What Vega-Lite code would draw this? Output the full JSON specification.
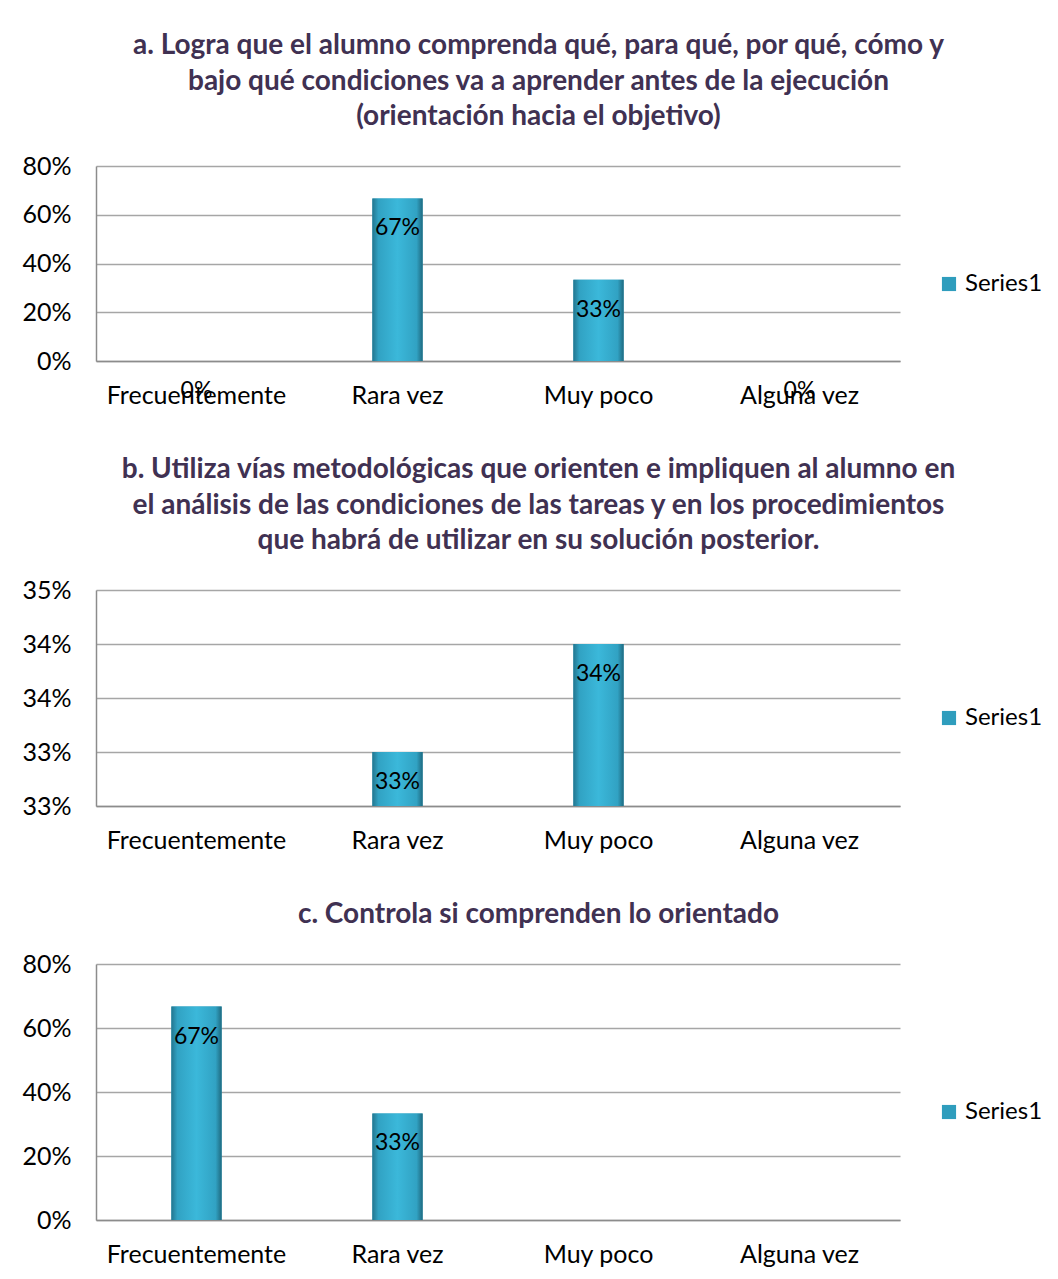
{
  "$schema": "https://vega.github.io/schema/vega-lite/v6.json",
  "background": "white",
  "padding": {"left": 21, "top": 32, "right": 5, "bottom": 5},
  "spacing": 48,
  "datasets": {
    "a": [
      {"categoria": "Frecuentemente", "valor": 0, "etiqueta": "0%"},
      {"categoria": "Rara vez", "valor": 0.667, "etiqueta": "67%"},
      {"categoria": "Muy poco", "valor": 0.333, "etiqueta": "33%"},
      {"categoria": "Alguna vez", "valor": 0, "etiqueta": "0%"}
    ],
    "b": [
      {"categoria": "Rara vez", "valor": 0.335, "etiqueta": "33%"},
      {"categoria": "Muy poco", "valor": 0.345, "etiqueta": "34%"}
    ],
    "c": [
      {"categoria": "Frecuentemente", "valor": 0.667, "etiqueta": "67%"},
      {"categoria": "Rara vez", "valor": 0.333, "etiqueta": "33%"}
    ]
  },
  "vconcat": [
    {
      "width": 804,
      "height": 195,
      "title": {"text": ["a. Logra que el alumno comprenda qué, para qué, por qué, cómo y", "bajo qué condiciones va a aprender antes de la ejecución", "(orientación hacia el objetivo)"]},
      "data": {"name": "a"},
      "encoding": {
        "x": {"field": "categoria", "type": "nominal", "sort": ["Frecuentemente", "Rara vez", "Muy poco", "Alguna vez"],
              "scale": {"domain": ["Frecuentemente", "Rara vez", "Muy poco", "Alguna vez"], "paddingInner": 0.75, "paddingOuter": 0.375},
              "axis": {"title": null}},
        "y": {"field": "valor", "type": "quantitative", "scale": {"domain": [0, 0.8]},
              "axis": {"title": null, "values": [0, 0.2, 0.4, 0.6, 0.8], "format": ".0%"}}
      },
      "layer": [
        {"mark": {"type": "bar"},
         "encoding": {"color": {"datum": "Series1", "legend": {"title": " "}, "scale": {"range": ["#2f9dbd"]}}}},
        {"mark": {"type": "bar", "fill": {"gradient": "linear", "x1": 0, "y1": 0, "x2": 1, "y2": 0, "stops": [{"offset": 0, "color": "#23768f"}, {"offset": 0.12, "color": "#31a2c3"}, {"offset": 0.5, "color": "#3bb8da"}, {"offset": 0.88, "color": "#31a2c3"}, {"offset": 1, "color": "#1f6a80"}]}}},
        {"mark": {"type": "text", "baseline": "middle", "dy": 30, "fontSize": 23, "color": "#000000"},
         "encoding": {"text": {"field": "etiqueta"}}}
      ]
    },
    {
      "width": 804,
      "height": 216,
      "title": {"text": ["b. Utiliza vías metodológicas que orienten e impliquen al alumno en", "el análisis de las condiciones de las tareas y en los procedimientos", "que habrá de utilizar en su solución posterior."]},
      "data": {"name": "b"},
      "encoding": {
        "x": {"field": "categoria", "type": "nominal", "sort": ["Frecuentemente", "Rara vez", "Muy poco", "Alguna vez"],
              "scale": {"domain": ["Frecuentemente", "Rara vez", "Muy poco", "Alguna vez"], "paddingInner": 0.75, "paddingOuter": 0.375},
              "axis": {"title": null}},
        "y": {"field": "valor", "type": "quantitative", "scale": {"domain": [0.33, 0.35], "zero": false},
              "axis": {"title": null, "values": [0.33, 0.335, 0.34, 0.345, 0.35], "labelExpr": "floor(datum.value * 100 + 0.0001) + '%'"}}
      },
      "layer": [
        {"mark": {"type": "bar"},
         "encoding": {"y2": {"datum": 0.33}, "color": {"datum": "Series1", "legend": {"title": " "}, "scale": {"range": ["#2f9dbd"]}}}},
        {"mark": {"type": "bar", "fill": {"gradient": "linear", "x1": 0, "y1": 0, "x2": 1, "y2": 0, "stops": [{"offset": 0, "color": "#23768f"}, {"offset": 0.12, "color": "#31a2c3"}, {"offset": 0.5, "color": "#3bb8da"}, {"offset": 0.88, "color": "#31a2c3"}, {"offset": 1, "color": "#1f6a80"}]}},
         "encoding": {"y2": {"datum": 0.33}}},
        {"mark": {"type": "text", "baseline": "middle", "dy": 30, "fontSize": 23, "color": "#000000"},
         "encoding": {"text": {"field": "etiqueta"}}}
      ]
    },
    {
      "width": 804,
      "height": 256,
      "title": {"text": "c. Controla si comprenden lo orientado"},
      "data": {"name": "c"},
      "encoding": {
        "x": {"field": "categoria", "type": "nominal", "sort": ["Frecuentemente", "Rara vez", "Muy poco", "Alguna vez"],
              "scale": {"domain": ["Frecuentemente", "Rara vez", "Muy poco", "Alguna vez"], "paddingInner": 0.75, "paddingOuter": 0.375},
              "axis": {"title": null}},
        "y": {"field": "valor", "type": "quantitative", "scale": {"domain": [0, 0.8]},
              "axis": {"title": null, "values": [0, 0.2, 0.4, 0.6, 0.8], "format": ".0%"}}
      },
      "layer": [
        {"mark": {"type": "bar"},
         "encoding": {"color": {"datum": "Series1", "legend": {"title": " "}, "scale": {"range": ["#2f9dbd"]}}}},
        {"mark": {"type": "bar", "fill": {"gradient": "linear", "x1": 0, "y1": 0, "x2": 1, "y2": 0, "stops": [{"offset": 0, "color": "#23768f"}, {"offset": 0.12, "color": "#31a2c3"}, {"offset": 0.5, "color": "#3bb8da"}, {"offset": 0.88, "color": "#31a2c3"}, {"offset": 1, "color": "#1f6a80"}]}}},
        {"mark": {"type": "text", "baseline": "middle", "dy": 30, "fontSize": 23, "color": "#000000"},
         "encoding": {"text": {"field": "etiqueta"}}}
      ]
    }
  ],
  "resolve": {"scale": {"color": "independent"}, "legend": {"color": "independent"}},
  "config": {
    "font": "Lato",
    "view": {"stroke": null},
    "axis": {"labelFont": "Lato", "labelFontSize": 25, "labelColor": "#000000", "domainColor": "#8c8c8c", "domainWidth": 1.5, "gridColor": "#a6a6a6", "gridWidth": 1.5, "ticks": false, "labelPadding": 22},
    "axisX": {"grid": false, "labelAngle": 0},
    "axisY": {"grid": true, "labelPadding": 25},
    "title": {"font": "Lato", "fontSize": 28, "fontWeight": "bold", "color": "#403152", "lineHeight": 35.5, "anchor": "middle", "frame": "bounds", "offset": 23, "dx": 6},
    "legend": {"labelFont": "Lato", "labelFontSize": 24, "labelColor": "#000000", "labelOffset": 4, "symbolType": "square", "symbolSize": 200, "symbolStrokeWidth": 0, "offset": 37, "titleFontSize": 8, "titlePadding": 32, "layout": {"right": {"anchor": "middle"}}}
  }
}
